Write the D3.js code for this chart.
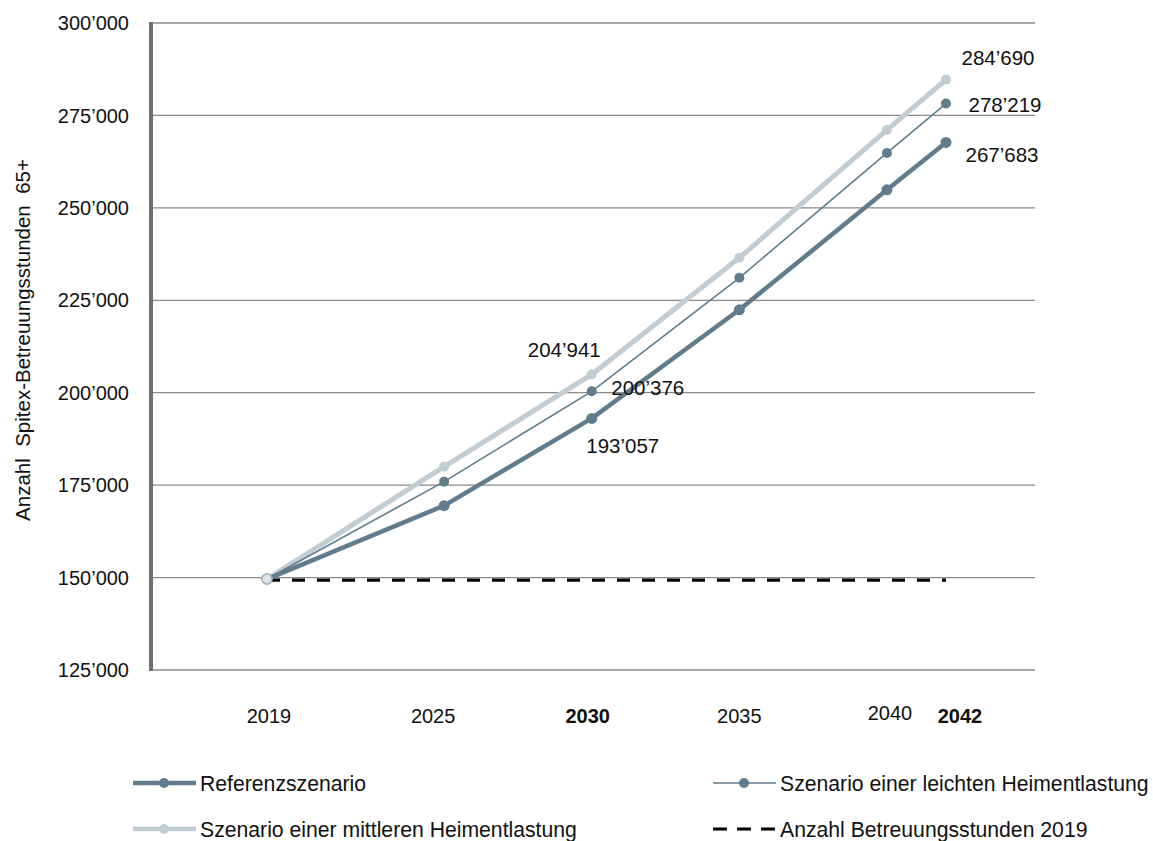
<!DOCTYPE html>
<html><head><meta charset="utf-8">
<script src="https://cdn.jsdelivr.net/npm/d3@7"></script>
<style>body{margin:0;background:#fff;font-family:"Liberation Sans",Arial,sans-serif;}</style>
</head><body>
<svg id="chart" width="1153" height="841"></svg>
<script>
const years = [2019, 2025, 2030, 2035, 2040, 2042];
const referenz = [149600, 169460, 193057, 222430, 254870, 267683];
const leicht = [149600, 175950, 200376, 231080, 264860, 278219];
const mittel = [149600, 180000, 204941, 236490, 271080, 284690];
const baseline2019 = 149600;
const yTicks = [125000, 150000, 175000, 200000, 225000, 250000, 275000, 300000];
const xTickYears = [2019, 2025, 2030, 2035, 2040, 2042];
const boldYears = [2030, 2042];
const seriesNames = ["Referenzszenario", "Szenario einer leichten Heimentlastung", "Szenario einer mittleren Heimentlastung", "Anzahl Betreuungsstunden 2019"];

const svg = d3.select("#chart");
const fmt = v => d3.format(",")(v).replace(/,/g, "\u2019");
const x = d3.scaleLinear().domain([2019, 2042]).range([267, 946]);
const y = d3.scaleLinear().domain([125000, 300000]).range([670, 23]);

const dark = "#607c8d", lightC = "#c1ccd3";

// gridlines
svg.append("g").selectAll("line").data(yTicks).join("line")
  .attr("x1", 152).attr("x2", 1035)
  .attr("y1", d => y(d)).attr("y2", d => y(d))
  .attr("stroke", "#8a8a8a").attr("stroke-width", 1.3);

// y axis thick bar
svg.append("line").attr("x1", 151).attr("x2", 151).attr("y1", y(300000)-1).attr("y2", y(125000)+1)
  .attr("stroke", "#6e6e6e").attr("stroke-width", 4);

// y tick labels
svg.append("g").selectAll("text").data(yTicks).join("text")
  .attr("x", 129).attr("y", d => y(d)).attr("dy", "0.36em")
  .attr("text-anchor", "end").attr("font-size", 20).attr("fill", "#111")
  .text(fmt);

// y title
svg.append("text").attr("transform", "translate(30,340) rotate(-90)")
  .attr("text-anchor", "middle").attr("font-size", 20.5).attr("fill", "#111")
  .attr("xml:space", "preserve")
  .text("Anzahl  Spitex-Betreuungsstunden  65+");

// x labels
const xLabelShift = {2019: 2, 2025: -11, 2030: -4, 2035: 0, 2040: 3, 2042: 14};
svg.append("g").selectAll("text").data(xTickYears).join("text")
  .attr("x", d => x(d) + xLabelShift[d])
  .attr("y", d => d === 2040 ? 720 : 723)
  .attr("text-anchor", "middle").attr("font-size", 20)
  .attr("font-weight", d => boldYears.includes(d) ? "bold" : "normal")
  .attr("fill", "#111").text(d => d);

// baseline dashed
svg.append("line").attr("x1", x(2019)).attr("x2", x(2042))
  .attr("y1", y(baseline2019)+1).attr("y2", y(baseline2019)+1)
  .attr("stroke", "#000").attr("stroke-width", 3.2).attr("stroke-dasharray", "13,12");

const line = d3.line().x((d, i) => x(years[i])).y(d => y(d));
const series = [
  {vals: mittel, color: lightC, w: 5, r: 5},
  {vals: leicht, color: dark, w: 1.6, r: 5},
  {vals: referenz, color: dark, w: 4.5, r: 5.5}
];
series.forEach(s => {
  svg.append("path").datum(s.vals).attr("d", line)
    .attr("fill", "none").attr("stroke", s.color).attr("stroke-width", s.w)
    .attr("stroke-linejoin", "round");
  svg.append("g").selectAll("circle").data(s.vals).join("circle")
    .attr("cx", (d, i) => x(years[i])).attr("cy", d => y(d)).attr("r", s.r)
    .attr("fill", s.color);
});
// start point
svg.append("circle").attr("cx", x(2019)).attr("cy", y(149600)).attr("r", 5)
  .attr("fill", "#dfe6ea").attr("stroke", "#9fb1bc").attr("stroke-width", 1.5);

// data labels
const labels = [
  {v: mittel[5], yr: 2042, dx: 52, dy: -21.5},
  {v: leicht[5], yr: 2042, dx: 59, dy: 1.5},
  {v: referenz[5], yr: 2042, dx: 56, dy: 12.5},
  {v: mittel[2], yr: 2030, dx: -27.5, dy: -24.5},
  {v: leicht[2], yr: 2030, dx: 56, dy: -4},
  {v: referenz[2], yr: 2030, dx: 31, dy: 27.5}
];
svg.append("g").selectAll("text").data(labels).join("text")
  .attr("x", d => x(d.yr) + d.dx).attr("y", d => y(d.v) + d.dy).attr("dy", "0.36em")
  .attr("text-anchor", "middle").attr("font-size", 20.5).attr("fill", "#111")
  .text(d => fmt(d.v));

// legend
const leg = [
  {name: seriesNames[0], x: 133, y: 783, color: dark, w: 4.5, marker: true, dash: null},
  {name: seriesNames[1], x: 713, y: 783, color: dark, w: 1.6, marker: true, dash: null},
  {name: seriesNames[2], x: 133, y: 829, color: lightC, w: 4.5, marker: true, dash: null},
  {name: seriesNames[3], x: 713, y: 829, color: "#000", w: 3.2, marker: false, dash: "14,10"}
];
leg.forEach(l => {
  const g = svg.append("g");
  g.append("line").attr("x1", l.x).attr("x2", l.x + 63).attr("y1", l.y).attr("y2", l.y)
    .attr("stroke", l.color).attr("stroke-width", l.w).attr("stroke-dasharray", l.dash);
  if (l.marker) g.append("circle").attr("cx", l.x + 31).attr("cy", l.y).attr("r", 5).attr("fill", l.color);
  g.append("text").attr("x", l.x + 67).attr("y", l.y).attr("dy", "0.36em")
    .attr("font-size", 21.2).attr("fill", "#111").text(l.name);
});
</script>
</body></html>
